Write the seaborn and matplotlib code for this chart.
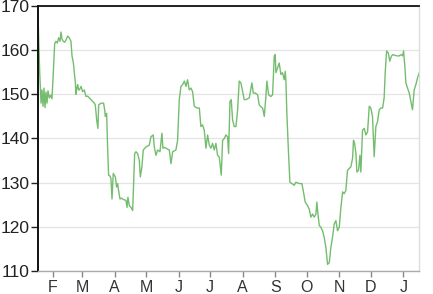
import numpy as np
import pandas as pd
import matplotlib
matplotlib.use("Agg")
import matplotlib.pyplot as plt
import matplotlib.dates as mdates
from matplotlib.ticker import FuncFormatter
import seaborn as sns

start = "2011-01-18"

days = [0.0, 0.6, 1.6, 2.9, 3.8, 4.8, 5.7, 6.7, 7.6, 8.6, 9.5, 10.8, 12.1, 13.3,
        14.6, 15.9, 17.1, 18.4, 19.7, 21.0, 21.9, 22.9, 24.1, 25.4, 26.7, 28.3,
        29.8, 31.4, 32.4, 33.7, 34.6, 35.6, 36.2, 37.1, 37.8, 38.7, 39.4, 41.0,
        42.5, 44.1, 45.7, 47.3, 48.9, 50.5, 52.1, 53.7, 54.6, 55.9, 57.1, 57.8,
        60.0, 62.5, 63.5, 64.1, 65.4, 66.3, 67.3, 68.6, 69.5, 70.5, 71.7, 73.7,
        74.9, 75.9, 76.8, 78.1, 79.4, 80.6, 82.2, 83.8, 84.8, 85.7, 87.0, 88.6,
        90.2, 91.1, 92.1, 93.3, 94.9, 96.5, 97.5, 99.0, 100.3, 102.9, 104.4,
        106.0, 107.6, 109.8, 110.8, 112.4, 114.0, 116.2, 118.1, 119.0, 120.3,
        121.9, 123.5, 125.1, 126.7, 128.3, 129.8, 131.4, 133.0, 134.6, 136.2,
        137.8, 139.4, 141.0, 142.5, 144.1, 145.7, 147.3, 148.9, 150.5, 152.1,
        153.7, 155.2, 156.8, 158.4, 160.0, 161.6, 163.2, 164.8, 166.3, 167.9,
        169.5, 171.1, 172.7, 173.7, 174.6, 175.9, 177.5, 179.0, 180.6, 181.6,
        182.9, 184.1, 185.4, 187.0, 188.6, 190.2, 191.7, 193.3, 194.9, 196.5,
        198.1, 201.3, 203.8, 205.1, 207.0, 209.2, 210.8, 212.4, 214.0, 215.6,
        217.1, 218.1, 219.7, 221.9, 223.5, 225.1, 226.0, 226.7, 228.3, 229.8,
        231.4, 233.0, 234.6, 235.6, 236.2, 237.1, 238.7, 240.0, 241.9, 244.1,
        245.7, 248.9, 251.4, 252.7, 254.6, 256.8, 258.4, 260.0, 261.6, 263.2,
        264.8, 265.7, 266.7, 268.0, 269.5, 271.1, 272.7, 274.3, 275.9, 277.5,
        279.0, 280.6, 282.2, 283.8, 285.4, 287.0, 288.6, 290.2, 291.7, 293.3,
        294.9, 296.5, 298.1, 299.7, 300.6, 301.6, 302.9, 303.8, 305.4, 306.7,
        307.6, 309.2, 310.8, 312.4, 314.0, 315.6, 317.1, 318.7, 320.3, 321.9,
        323.5, 325.1, 326.7, 328.3, 329.8, 330.8, 332.1, 333.7, 335.2, 336.8,
        338.4, 340.3, 342.5, 344.1, 345.7, 347.3, 348.3, 349.5, 350.5, 352.1,
        353.7, 355.2, 356.8, 358.4, 360.0, 361.6, 363.2, 364.8]

price = [168.0, 163.0, 155.0, 148.0, 151.0, 147.3, 151.4, 147.0, 150.5, 148.0,
         150.8, 149.2, 149.8, 149.0,
         155.0, 161.5, 162.0, 161.6, 162.8, 162.0, 164.1, 162.5, 162.0, 161.8,
         162.3, 163.2, 162.8, 162.0, 158.7, 157.1, 155.0, 152.6, 150.0, 151.5,
         152.2, 151.0, 151.0, 151.8, 150.6, 151.0, 149.5, 149.6, 149.2, 148.8,
         148.4, 148.0, 147.6, 144.2, 142.3, 147.6, 148.0, 148.0, 146.5, 145.0,
         145.7, 138.1, 131.7, 131.5, 130.9, 126.3, 132.1, 131.3, 129.0, 129.8,
         128.2, 126.3, 126.5, 126.3, 126.1, 126.0, 124.4, 126.7, 124.8, 124.4,
         123.7, 129.8, 136.6, 137.0, 136.6, 135.1, 131.3, 133.6, 137.4, 138.1,
         138.3, 138.5, 140.4, 140.8, 138.1, 136.2, 137.4, 137.0, 141.2, 137.8,
         138.0, 137.8, 137.6, 137.4, 134.3, 137.0, 137.2, 137.4, 139.6, 148.8,
         151.8, 152.2, 153.0, 151.8, 153.3, 151.0, 151.4, 150.6, 147.3, 147.0,
         146.9, 146.9, 142.7, 143.1, 141.9, 137.8, 140.8, 138.5, 137.8, 138.9,
         137.4, 138.9, 136.2, 135.8, 133.6, 131.7, 139.6, 140.0, 140.8, 140.4,
         136.6, 148.4,
         148.8, 144.2, 142.7, 142.7, 146.5, 153.0, 152.6, 150.7, 148.8, 148.8,
         149.2, 152.6, 150.3, 150.3, 149.9, 147.6, 147.2, 146.9, 145.0, 149.5,
         153.0, 149.9, 149.5, 149.9, 158.7, 159.0, 154.9, 156.0, 157.1, 154.5,
         154.9, 153.3, 155.2, 152.9, 145.7, 136.6, 130.1, 129.8, 129.4, 130.1,
         129.8, 129.8, 128.2, 125.6, 124.8, 124.0, 122.2, 122.9, 122.2, 122.9,
         125.6, 122.9, 120.3, 119.9, 119.1, 117.6, 115.3, 111.5, 111.9, 115.3,
         117.6, 120.6, 121.4, 119.1, 119.9, 124.4, 127.9, 127.5, 128.2, 132.8,
         133.2, 133.6, 135.5, 139.6, 138.9, 136.6, 132.4, 132.8, 136.2, 132.4,
         141.9, 142.3, 140.8, 141.5, 147.3, 146.9, 145.0, 135.9, 142.7, 143.8,
         146.5, 146.9, 146.9, 149.2, 154.9, 159.8, 159.4, 157.5, 158.7, 159.0,
         158.8, 158.7, 158.7, 159.0, 158.7, 159.8, 156.4, 152.6, 151.4, 150.3,
         148.4, 146.5, 151.0, 152.2, 153.7, 154.9, 155.3]

y_ticks = [110, 120, 130, 140, 150, 160, 170]

sns.set_theme(style="white")
plt.rcParams["font.family"] = ["Liberation Sans", "DejaVu Sans"]

t0 = pd.Timestamp(start)
df = pd.DataFrame({"date": t0 + pd.to_timedelta(days, unit="D"), "price": price})

W, H = 433, 294
fig = plt.figure(figsize=(W / 100, H / 100), dpi=100)
ax = fig.add_axes([38 / W, 1 - 271 / H, 381 / W, 265 / H])

sns.lineplot(data=df, x="date", y="price", ax=ax, color="#74bd6e",
             linewidth=1.0, estimator=None, sort=False)

ax.set_xlim(t0, t0 + pd.Timedelta(days=363))
ax.set_ylim(110, 170)
ax.set_yticks(y_ticks)
ax.yaxis.grid(True, color="#e4e4e4", linewidth=0.9)
ax.xaxis.grid(False)
ax.set_axisbelow(True)

ax.xaxis.set_major_locator(mdates.MonthLocator())
ax.xaxis.set_major_formatter(
    FuncFormatter(lambda v, p: mdates.num2date(v).strftime("%b")[0]))

ax.set_xlabel("")
ax.set_ylabel("")

for side, col, lw in [("left", "#111111", 1.4), ("top", "#111111", 1.3),
                      ("right", "#dddddd", 1.0), ("bottom", "#aaaaaa", 1.0)]:
    ax.spines[side].set_visible(True)
    ax.spines[side].set_color(col)
    ax.spines[side].set_linewidth(lw)

ax.tick_params(axis="y", left=True, length=5, width=1, color="#222222",
               labelsize=12.5, labelcolor="#222222", pad=1)
ax.tick_params(axis="x", bottom=True, length=4, width=1, color="#888888",
               labelsize=11.5, labelcolor="#333333", pad=2.5)

fig.savefig("out.png", dpi=100)
